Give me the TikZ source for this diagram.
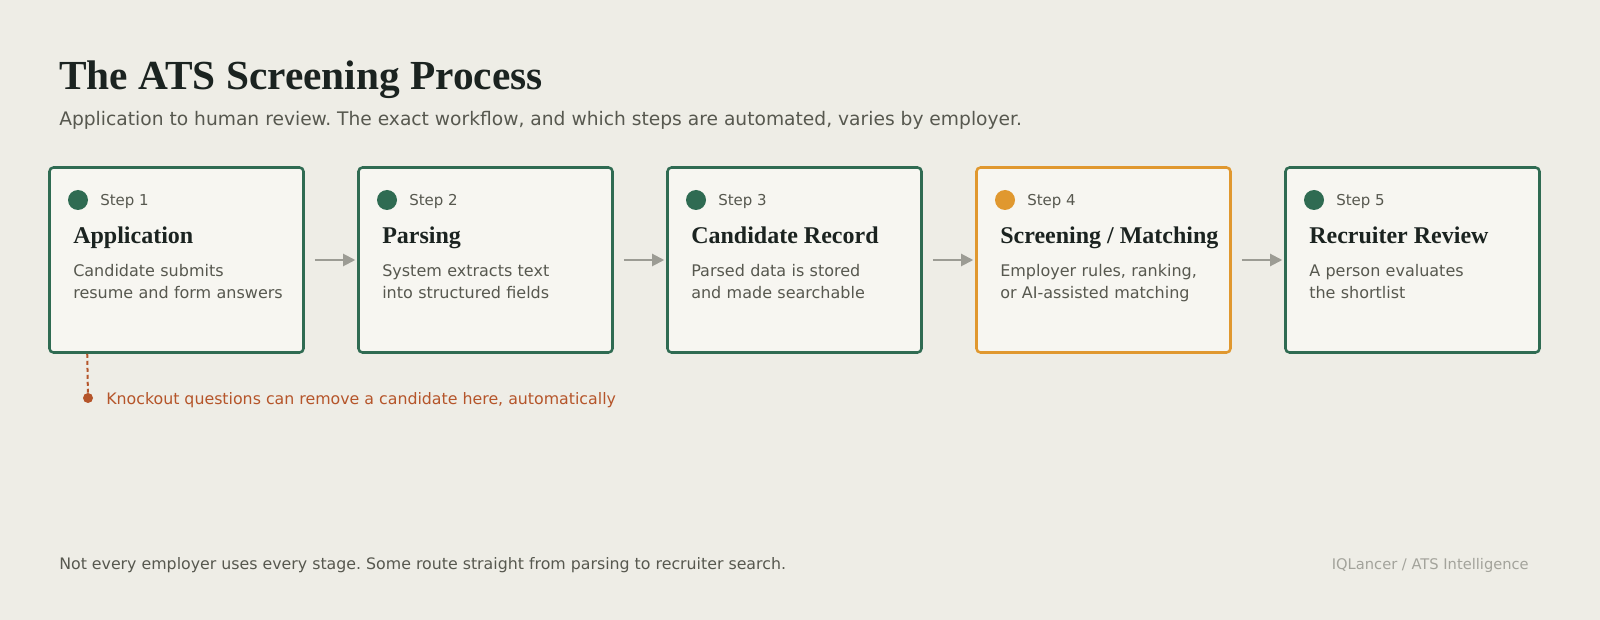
\documentclass[tikz,border=0pt]{standalone}
\usepackage{fontspec}
\setmainfont{DejaVu Sans}
\newfontfamily\headfont{Liberation Serif}
\usepackage{xcolor}
\usetikzlibrary{arrows.meta}
\frenchspacing
\definecolor{paper}{HTML}{EEEDE6}
\definecolor{cardfill}{HTML}{F7F6F1}
\definecolor{stepgreen}{HTML}{2F6B52}
\definecolor{steporange}{HTML}{E0982F}
\definecolor{inkdark}{HTML}{1B2320}
\definecolor{inkgray}{HTML}{57584F}
\definecolor{linkgray}{HTML}{9C9C94}
\definecolor{knockout}{HTML}{B5552A}
\definecolor{faintgray}{HTML}{A3A39B}
\tikzset{
    StepBox/.style = {draw=#1,line width=1.9pt,rounded corners=3pt,fill=cardfill,
        minimum width=190.5pt,minimum height=138.75pt,inner sep=0pt},
    Dot/.style = {fill=#1,circle,inner sep=0pt,minimum size=15pt},
    Txt/.style = {inner sep=0pt,anchor=base west},
    Link/.style = {draw=linkgray,line width=1.5pt,
        -{Triangle[length=9pt,width=9pt]},shorten <=7.5pt,shorten >=1.5pt}
}
\begin{document}
\begin{tikzpicture}[x=0.75pt,y=-0.75pt]
        \fill[paper] (0,0) rectangle (1600,620);
        \useasboundingbox (0,0) rectangle (1600,620);
        \node[Txt,text=inkdark,font=\headfont\bfseries\fontsize{31}{36}\selectfont] (title) at (59,90) {The ATS Screening Process};
        \node[Txt,text=inkgray,font=\fontsize{14}{17}\selectfont] (subtitle) at (59,126)
            {Application to human review. The exact workflow, and which steps are automated, varies by employer.};
        \foreach \i/\col/\head/\desc in {
            1/stepgreen/Application/{Candidate submits\\resume and form answers},
            2/stepgreen/Parsing/{System extracts text\\into structured fields},
            3/stepgreen/Candidate Record/{Parsed data is stored\\and made searchable},
            4/steporange/{Screening / Matching}/{Employer rules, ranking,\\or AI-assisted matching},
            5/stepgreen/Recruiter Review/{A person evaluates\\the shortlist}}
            {\pgfmathsetmacro\bx{176.5+309*(\i-1)}
             \node[StepBox=\col] (box\i) at (\bx,260) {};
             \node[Dot=\col] (dot\i) at (\bx-98.5,200) {};
             \node[Txt,text=inkgray,font=\fontsize{11.25}{14}\selectfont] (lbl\i) at (\bx-76.5,206) {Step \i};
             \node[Txt,text=inkdark,font=\headfont\bfseries\fontsize{18}{22}\selectfont] (head\i) at (\bx-103.5,244) {\head};
             \node[Txt,text=inkgray,text width=185pt,align=left,font=\fontsize{12}{16.5}\selectfont] (desc\i) at (\bx-103.5,277) {\desc};}
        \foreach \i [evaluate=\i as \j using int(\i+1)] in {1,...,4}
            {\draw[Link] (box\i.east) -- (box\j.west);}
        % knockout note under step 1
        \node[fill=knockout,circle,inner sep=0pt,minimum size=7.5pt] (kodot) at (88,398) {};
        \draw[knockout,line width=1.5pt,dash pattern=on 3pt off 2.25pt] ([xshift=29.25pt]box1.south west) -- (kodot);
        \node[Txt,text=knockout,font=\fontsize{11.85}{14}\selectfont] (kotext) at (106,404) {Knockout questions can remove a candidate here, automatically};
        \node[Txt,text=inkgray,font=\fontsize{11.85}{14}\selectfont] (note) at (59,569)
            {Not every employer uses every stage. Some route straight from parsing to recruiter search.};
        \node[inner sep=0pt,anchor=base east,text=faintgray,font=\fontsize{11}{14}\selectfont] (brand) at (1529,569) {IQLancer / ATS Intelligence};
\end{tikzpicture}
\end{document}
